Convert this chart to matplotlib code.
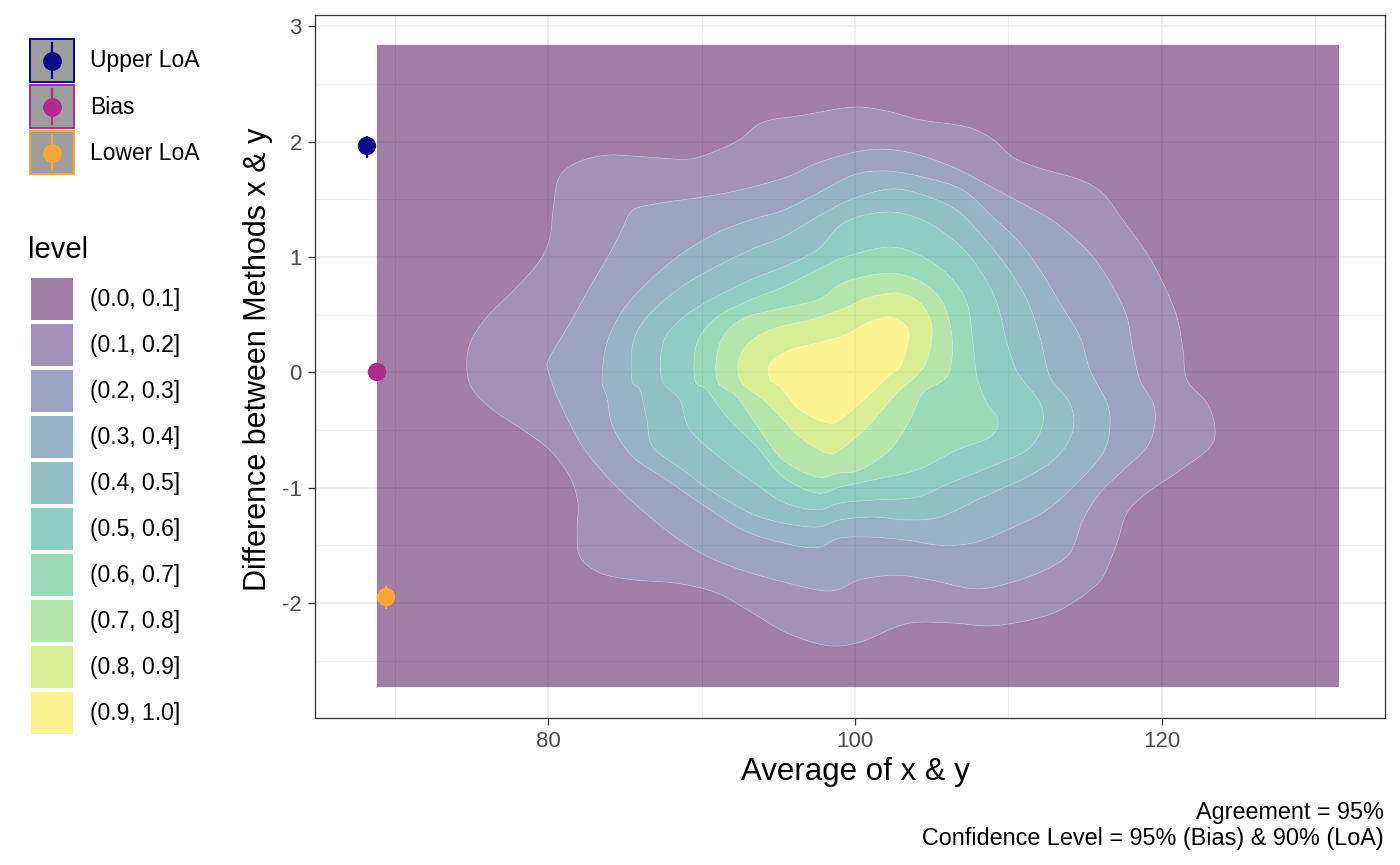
import numpy as np
import matplotlib
matplotlib.use('Agg')
import matplotlib.pyplot as plt
from matplotlib.path import Path
from matplotlib.patches import PathPatch, Rectangle

plt.rcParams['font.family'] = ['Liberation Sans', 'DejaVu Sans']
plt.rcParams['axes.unicode_minus'] = False

# ---- data ------------------------------------------------------------------

level_labels = ['(0.0, 0.1]', '(0.1, 0.2]', '(0.2, 0.3]', '(0.3, 0.4]', '(0.4, 0.5]',
                '(0.5, 0.6]', '(0.6, 0.7]', '(0.7, 0.8]', '(0.8, 0.9]', '(0.9, 1.0]']

# extent of the density grid (lowest band)
grid_x = [68.82, 131.57]
grid_y = [-2.73, 2.84]

# density contour outlines, level 0.1 ... 0.9
c1_x = [74.69, 74.89, 75.99, 77.95, 79.45, 80.10, 80.30, 80.56, 81.08, 82.26, 84.02, 86.63, 89.24,
        91.10, 92.50, 94.00, 96.61, 99.87, 102.09, 104.24, 107.31, 109.00, 110.31, 112.07, 114.68,
        116.18, 117.48, 119.05, 120.09, 121.00, 121.40, 121.66, 122.96, 123.48, 123.16, 121.20,
        119.05, 117.74, 117.09, 116.18, 115.33, 114.48, 112.92, 110.76, 108.61, 106.39, 103.39,
        100.33, 98.17, 95.56, 93.35, 91.00, 88.39, 85.52, 83.37, 82.06, 81.87, 81.93, 81.41, 80.10,
        78.34, 76.39, 75.08]
c1_y = [0.02, 0.25, 0.48, 0.74, 0.97, 1.17, 1.405, 1.64, 1.755, 1.84, 1.885, 1.865, 1.85,
        1.93, 2.02, 2.17, 2.23, 2.30, 2.266, 2.19, 2.128, 2.02, 1.865, 1.77, 1.67,
        1.55, 1.32, 1.03, 0.775, 0.48, 0.19, -0.067, -0.266, -0.475, -0.65, -0.85,
        -1.047, -1.22, -1.48, -1.775, -1.888, -1.975, -2.09, -2.166, -2.20, -2.175, -2.18,
        -2.34, -2.37, -2.26, -2.09, -1.915, -1.83, -1.80, -1.74, -1.60, -1.37, -1.134, -0.91, -0.675,
        -0.50, -0.327, -0.154]

c2_x = [79.97, 80.10, 81.41, 82.71, 84.02, 84.87, 85.32, 85.98, 87.74, 90.08, 92.50, 95.56, 97.72,
        100.78, 103.39, 106.39, 109.26, 112.52, 114.22, 115.53, 116.83, 117.74, 118.13, 118.59,
        119.44, 119.57, 119.05, 117.48, 115.98, 114.87, 114.02, 112.39, 110.11, 107.83, 104.89,
        102.61, 100.33, 98.37, 95.56, 92.04, 89.24, 86.63, 84.21, 82.26, 80.76]
c2_y = [0.02, 0.133, 0.428, 0.74, 1.035, 1.26, 1.382, 1.434, 1.477, 1.52, 1.581, 1.694, 1.824,
        1.928, 1.911, 1.78, 1.581, 1.347, 1.174, 1.0, 0.74, 0.48, 0.194, -0.067,
        -0.266, -0.44, -0.648, -0.85, -1.047, -1.28, -1.567, -1.715, -1.826, -1.878, -1.80,
        -1.76, -1.80, -1.897, -1.826, -1.69, -1.515, -1.255, -0.96, -0.648, -0.266]

c3_x = [83.50, 83.82, 84.87, 86.63, 88.78, 91.00, 93.15, 95.30, 97.52, 99.87, 102.09, 104.70,
        107.05, 109.00, 110.76, 112.07, 113.37, 114.68, 115.33, 116.44, 116.63, 116.18, 114.68,
        112.52, 109.92, 107.70, 105.54, 103.39, 101.17, 99.02, 97.52, 95.30, 92.69, 89.89, 87.74,
        85.52, 84.21, 83.82]
c3_y = [-0.067, 0.254, 0.54, 0.80, 1.035, 1.21, 1.32, 1.405, 1.55, 1.71, 1.746, 1.685,
        1.58, 1.347, 1.122, 0.888, 0.601, 0.306, 0.02, -0.266, -0.475, -0.70, -0.935,
        -1.194, -1.368, -1.48, -1.50, -1.456, -1.43, -1.438, -1.52, -1.48, -1.368, -1.134, -0.935,
        -0.735, -0.475, -0.214]

c4_x = [85.45, 85.52, 86.43, 88.39, 90.54, 93.15, 95.30, 97.52, 99.67, 102.28, 104.44, 106.65,
        108.35, 109.92, 111.22, 112.07, 112.72, 114.02, 114.22, 113.18, 111.22, 108.35, 105.54,
        103.39, 101.17, 99.02, 97.52, 95.30, 93.15, 90.54, 88.78, 86.82, 86.43, 85.98]
c4_y = [-0.067, 0.254, 0.48, 0.714, 0.888, 1.061, 1.174, 1.347, 1.495, 1.59, 1.538, 1.405,
        1.174, 0.913, 0.627, 0.306, -0.041, -0.266, -0.50, -0.735, -0.908, -1.082, -1.255,
        -1.28, -1.255, -1.28, -1.342, -1.307, -1.22, -1.021, -0.848, -0.648, -0.414, -0.154]

c5_x = [87.41, 87.48, 88.58, 90.54, 93.15, 95.30, 97.52, 99.35, 102.09, 104.44, 106.65, 108.15,
        109.26, 109.92, 110.63, 112.07, 112.20, 111.22, 108.81, 106.20, 104.04, 101.17, 99.02,
        97.52, 95.30, 93.15, 91.39, 89.24, 88.58]
c5_y = [-0.067, 0.254, 0.454, 0.627, 0.80, 0.913, 1.061, 1.304, 1.39, 1.32, 1.122, 0.888,
        0.601, 0.254, -0.006, -0.266, -0.475, -0.674, -0.82, -0.96, -1.082, -1.108, -1.134,
        -1.194, -1.125, -0.934, -0.761, -0.501, -0.24]

c6_x = [89.56, 89.69, 91.00, 93.15, 95.30, 97.52, 99.35, 102.28, 104.44, 106.20, 107.31, 107.70,
        107.96, 108.61, 109.33, 108.81, 106.65, 104.04, 101.17, 99.02, 97.52, 95.30, 93.61,
        91.65, 90.35]
c6_y = [-0.067, 0.254, 0.48, 0.627, 0.74, 0.888, 1.0, 1.087, 1.0, 0.827, 0.601, 0.254,
        -0.041, -0.266, -0.414, -0.562, -0.674, -0.847, -0.934, -0.995, -1.047, -0.908, -0.648,
        -0.388, -0.154]

c7_x = [91.00, 91.19, 92.50, 94.65, 97.52, 99.35, 102.28, 104.44, 105.74, 106.33, 106.07, 104.44,
        103.59, 102.28, 100.33, 99.02, 97.52, 95.30, 93.80, 92.30]
c7_y = [-0.067, 0.254, 0.454, 0.54, 0.627, 0.783, 0.861, 0.775, 0.601, 0.306, -0.023, -0.18,
        -0.414, -0.674, -0.847, -0.873, -0.908, -0.761, -0.501, -0.214]

c8_x = [92.50, 92.69, 94.46, 97.06, 99.35, 100.78, 102.74, 104.24, 105.02, 104.70, 103.91, 102.74,
        100.78, 99.02, 98.17, 96.41, 94.26]
c8_y = [-0.067, 0.194, 0.367, 0.454, 0.558, 0.644, 0.688, 0.601, 0.393, 0.107, -0.041, -0.18,
        -0.475, -0.674, -0.70, -0.561, -0.266]

c9_x = [94.46, 94.46, 95.76, 97.52, 99.35, 100.78, 102.28, 103.39, 103.46, 102.94, 102.28, 100.78,
        99.02, 98.17, 96.41, 95.11]
c9_y = [-0.067, 0.081, 0.194, 0.254, 0.324, 0.428, 0.48, 0.393, 0.254, 0.046, -0.023, -0.214,
        -0.414, -0.44, -0.327, -0.128]

# bias and limits of agreement with their confidence intervals
stat_names = ['Upper LoA', 'Bias', 'Lower LoA']
stat_x = [68.17, 68.82, 69.41]
stat_y = [1.963, 0.003, -1.949]
stat_lo = [1.861, -0.05, -2.054]
stat_hi = [2.052, 0.05, -1.854]
stat_colors = ['#0D0887', '#B12A90', '#FCA636']

caption_lines = ['Agreement = 95%', 'Confidence Level = 95% (Bias) & 90% (LoA)']

# ---- helpers ------------------------------------------------------------------

W, H = 1400, 865


def ring(xs, ys, ccw=True, smooth=True):
    # closed outline as path; smooth=True draws it as a closed Catmull-Rom curve
    # through the read points (cubic Bezier segments)
    v = np.column_stack([xs, ys]).astype(float)
    area = 0.5 * np.sum(v[:, 0] * np.roll(v[:, 1], -1) - np.roll(v[:, 0], -1) * v[:, 1])
    if (area > 0) != ccw:
        v = v[::-1]
    n = len(v)
    if not smooth:
        verts = np.vstack([v, v[:1]])
        codes = [Path.MOVETO] + [Path.LINETO] * (n - 1) + [Path.CLOSEPOLY]
        return verts, codes
    verts = [v[0]]
    for i in range(n):
        p0, p1, p2, p3 = v[i - 1], v[i], v[(i + 1) % n], v[(i + 2) % n]
        verts += [p1 + (p2 - p0) / 6, p2 - (p3 - p1) / 6, p2]
    verts.append(v[0])
    codes = [Path.MOVETO] + [Path.CURVE4] * (3 * n) + [Path.CLOSEPOLY]
    return np.array(verts), codes


def fig_xy(px, py):
    return px / W, 1 - py / H


# ---- figure -------------------------------------------------------------------

fig = plt.figure(figsize=(W / 100, H / 100), dpi=100)
ax = fig.add_axes([315 / W, 1 - 718 / H, 1070 / W, (718 - 15.3) / H])

outlines = [([grid_x[0], grid_x[1], grid_x[1], grid_x[0]], [grid_y[0], grid_y[0], grid_y[1], grid_y[1]]),
            (c1_x, c1_y), (c2_x, c2_y), (c3_x, c3_y), (c4_x, c4_y),
            (c5_x, c5_y), (c6_x, c6_y), (c7_x, c7_y), (c8_x, c8_y), (c9_x, c9_y)]

band_colors = plt.cm.viridis(np.linspace(0, 1, len(level_labels)))

# each band = outline k with outline k+1 cut out
for k in range(len(outlines)):
    v, c = ring(*outlines[k], ccw=True, smooth=(k > 0))
    if k + 1 < len(outlines):
        v2, c2 = ring(*outlines[k + 1], ccw=False)
        v = np.vstack([v, v2])
        c = c + c2
    ax.add_patch(PathPatch(Path(v, c), facecolor=band_colors[k], alpha=0.5,
                           edgecolor='none', zorder=2))

# faint seams between bands
for xs, ys in outlines[1:]:
    v, c = ring(xs, ys)
    ax.add_patch(PathPatch(Path(v, c), facecolor='none', edgecolor='white',
                           lw=0.5, alpha=0.3, zorder=3))

ax.vlines(stat_x, stat_lo, stat_hi, colors=stat_colors, lw=1.6, zorder=4)
ax.scatter(stat_x, stat_y, s=175, c=stat_colors, edgecolors='none', zorder=5)

ax.set_xlim(64.78, 134.57)
ax.set_ylim(-2.998, 3.096)
ax.set_xticks([80, 100, 120])
ax.set_xticks([70, 90, 110, 130], minor=True)
ax.set_yticks([-2, -1, 0, 1, 2, 3])
ax.set_yticks([-2.5, -1.5, -0.5, 0.5, 1.5, 2.5], minor=True)
ax.set_axisbelow(True)
ax.grid(which='major', color='#EBEBEB', lw=1.1)
ax.grid(which='minor', color='#EBEBEB', lw=0.55)
ax.tick_params(which='major', length=5, width=0.9, color='#333333',
               labelcolor='#4D4D4D', labelsize=16, pad=4.5)
ax.tick_params(which='minor', length=0)
for s in ax.spines.values():
    s.set_color('#333333')
    s.set_linewidth(0.9)

# axis titles and caption
fig.text(*fig_xy(855, 772), 'Average of x & y', ha='center', va='center', fontsize=22.5)
fig.text(*fig_xy(258, 359), 'Difference between Methods x & y', ha='center', va='center',
         rotation=90, fontsize=22)
fig.text(*fig_xy(1384, 819), caption_lines[0], ha='right', va='baseline', fontsize=16.8)
fig.text(*fig_xy(1384, 845), caption_lines[1], ha='right', va='baseline', fontsize=16.8)

# ---- legends (drawn in pixel space) ---------------------------------------------

lax = fig.add_axes([0, 0, 1, 1])
lax.set_xlim(0, W)
lax.set_ylim(H, 0)
lax.axis('off')

for i, (name, col) in enumerate(zip(stat_names, stat_colors)):
    top = 39 + i * 46
    lax.add_patch(Rectangle((30, top), 44, 43, facecolor='#9E9E9E', edgecolor=col, lw=1.4))
    lax.plot([52, 52], [top + 4, top + 39], color=col, lw=1.6)
    lax.plot(52, top + 21.5, 'o', ms=13.5, color=col, mec='none')
    lax.text(90, top + 22, name, ha='left', va='center', fontsize=16.5)

lax.text(28, 250, 'level', ha='left', va='center', fontsize=21)
for k, lab in enumerate(level_labels):
    top = 278.3 + 46 * k
    lax.add_patch(Rectangle((31, top), 42, 42, facecolor=band_colors[k], alpha=0.5,
                            edgecolor='none'))
    lax.text(90, top + 21, lab, ha='left', va='center', fontsize=16.5)

fig.savefig('out.png', dpi=100)
